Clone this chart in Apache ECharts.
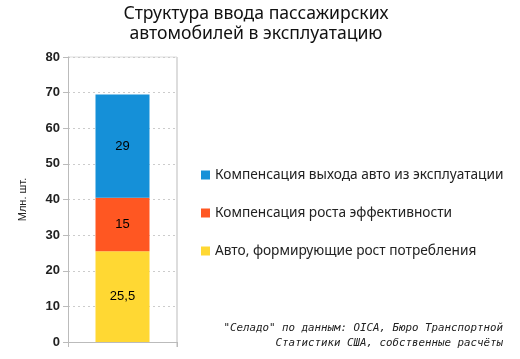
<!DOCTYPE html>
<html><head><meta charset="utf-8">
<script src="https://cdn.jsdelivr.net/npm/echarts@6/dist/echarts.min.js"></script>
<style>html,body{margin:0;padding:0;background:#fff}#c{width:520px;height:359px}</style>
</head><body><div id="c"></div>
<script>
const categories = [""];
const seriesNames = ["Авто, формирующие рост потребления", "Компенсация роста эффективности", "Компенсация выхода авто из эксплуатации"];
const growthValues = [25.5];
const efficiencyValues = [15];
const retirementValues = [29];
const colors = ["#ffd833", "#ff5722", "#1590d8"];

const chart = echarts.init(document.getElementById('c'));
const fmt = p => String(p.value).replace('.', ',');
const mk = (name, data, color) => ({
  name, type: 'bar', stack: 's', data, barWidth: 54,
  itemStyle: {color},
  label: {show: true, position: 'inside', formatter: fmt, color: '#000', fontSize: 13, fontFamily: 'Liberation Sans'}
});
chart.setOption({
  animation: false,
  title: {
    text: 'Структура ввода пассажирских\nавтомобилей в эксплуатацию',
    left: 256, textAlign: 'center', top: 4, padding: 0,
    textStyle: {fontSize: 17.6, fontWeight: 'normal', color: '#111', fontFamily: 'Noto Sans', lineHeight: 20}
  },
  grid: {left: 68, right: 343, top: 57, bottom: 17},
  legend: {
    orient: 'vertical', left: 196, top: 163, itemGap: 24,
    itemWidth: 9, itemHeight: 9, icon: 'rect',
    data: [seriesNames[2], seriesNames[1], seriesNames[0]],
    textStyle: {fontSize: 13.7, color: '#222', fontFamily: 'Noto Sans'}
  },
  xAxis: {
    type: 'category', data: categories,
    axisLine: {lineStyle: {color: '#bbb'}},
    axisTick: {show: true, length: 5, lineStyle: {color: '#bbb'}},
    axisLabel: {show: false},
    splitLine: {show: false}
  },
  yAxis: {
    type: 'value', min: 0, max: 80, interval: 10,
    name: 'Млн. шт.', nameLocation: 'middle', nameGap: 40,
    nameTextStyle: {fontSize: 11, color: '#222', fontFamily: 'Liberation Sans'},
    axisLine: {show: true, lineStyle: {color: '#bbb'}},
    axisTick: {show: true, length: 5, lineStyle: {color: '#bbb'}},
    axisLabel: {fontSize: 13, color: '#222', fontFamily: 'Liberation Sans', fontWeight: 'bold', margin: 8},
    splitLine: {show: true, lineStyle: {color: '#ccc', type: [2, 3]}}
  },
  graphic: [
    {type: 'line', shape: {x1: 177, y1: 57, x2: 177, y2: 347}, style: {stroke: '#bbb', lineWidth: 1}},
    {type: 'line', shape: {x1: 68, y1: 57, x2: 177, y2: 57}, style: {stroke: '#ddd', lineWidth: 1}},
    {type: 'text', right: 17, top: 321, style: {
      text: '"Селадо" по данным: OICA, Бюро Транспортной\nСтатистики США, собственные расчёты',
      textAlign: 'right', font: 'italic 10.8px "DejaVu Sans Mono"', fill: '#222', lineHeight: 15
    }}
  ],
  series: [
    mk(seriesNames[0], growthValues, colors[0]),
    mk(seriesNames[1], efficiencyValues, colors[1]),
    mk(seriesNames[2], retirementValues, colors[2])
  ]
});
</script></body></html>
